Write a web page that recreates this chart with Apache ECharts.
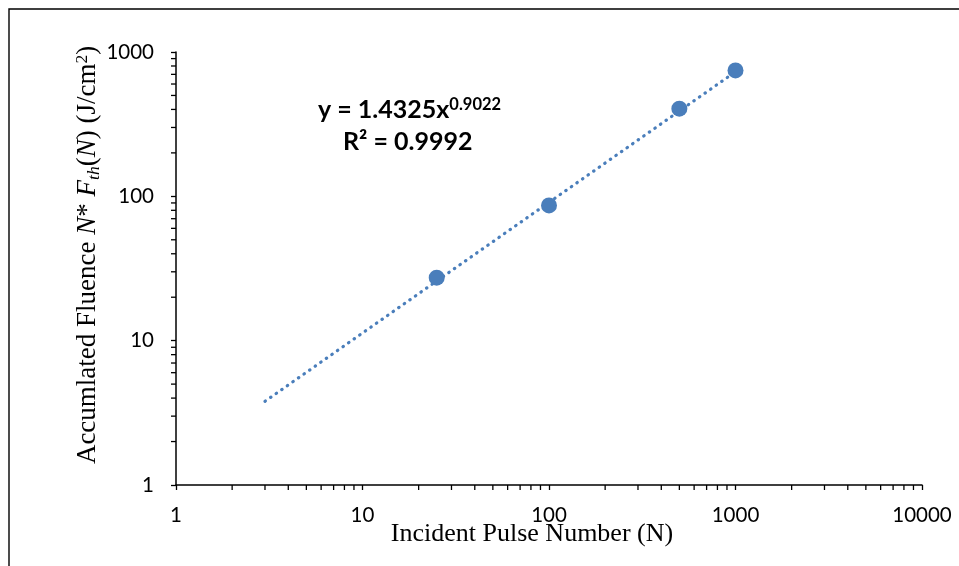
<!DOCTYPE html>
<html>
<head>
<meta charset="utf-8">
<script src="https://cdn.jsdelivr.net/npm/echarts@6/dist/echarts.min.js"></script>
<style>html,body{margin:0;padding:0;background:#fff;}#c{width:959px;height:566px;}</style>
</head>
<body>
<div id="c"></div>
<script>
const pulseNumbers = [25, 100, 500, 1000];
const accumFluence = [27.3, 86.5, 405, 745];
// Power-law trend line endpoints as drawn (straight on log-log)
const trendX = [3, 1000];
const trendY = [3.8, 730];
// Axis decades
const xTicks = [1, 10, 100, 1000, 10000];
const yTicks = [1, 10, 100, 1000];
const eqText = 'y = 1.4325x';
const eqExp = '0.9022';
const r2Text = 'R² = 0.9992';

const blue = '#4a7ebb';
const chart = echarts.init(document.getElementById('c'));

function minorTicksRender(params, api) {
  const children = [];
  const yBase = yTicks[0], xBase = xTicks[0];
  for (let i = 0; i < xTicks.length - 1; i++) {
    for (let m = 2; m <= 9; m++) {
      const p = api.coord([m * xTicks[i], yBase]);
      children.push({type: 'line', shape: {x1: p[0], y1: p[1], x2: p[0], y2: p[1] + 5},
        style: {stroke: '#000', lineWidth: 1.3}});
    }
  }
  for (let i = 0; i < yTicks.length - 1; i++) {
    for (let m = 2; m <= 9; m++) {
      const p = api.coord([xBase, m * yTicks[i]]);
      children.push({type: 'line', shape: {x1: p[0] - 5, y1: p[1], x2: p[0], y2: p[1]},
        style: {stroke: '#000', lineWidth: 1.3}});
    }
  }
  return {type: 'group', children: children};
}

const fmt = v => String(Math.round(v));

chart.setOption({
  animation: false,
  backgroundColor: '#fff',
  grid: {left: 176, right: 37, top: 52, bottom: 81},
  xAxis: {
    type: 'log', logBase: 10, min: xTicks[0], max: xTicks[xTicks.length - 1],
    axisLine: {lineStyle: {color: '#000', width: 1.5}},
    axisTick: {show: true, length: 5, lineStyle: {color: '#000', width: 1.3}},
    axisLabel: {formatter: fmt, color: '#000', fontFamily: 'Lato', fontSize: 20.5, margin: 20},
    splitLine: {show: false}
  },
  yAxis: {
    type: 'log', logBase: 10, min: yTicks[0], max: yTicks[yTicks.length - 1],
    axisLine: {show: true, lineStyle: {color: '#000', width: 1.5}},
    axisTick: {show: true, length: 5, lineStyle: {color: '#000', width: 1.3}},
    axisLabel: {formatter: fmt, color: '#000', fontFamily: 'Lato', fontSize: 20.5, margin: 22},
    splitLine: {show: false}
  },
  series: [
    {
      type: 'line',
      data: trendX.map((x, i) => [x, trendY[i]]),
      showSymbol: false,
      symbol: 'none',
      lineStyle: {color: blue, width: 3.2, type: [0.5, 6.3], cap: 'round'},
      z: 2
    },
    {
      type: 'scatter',
      data: pulseNumbers.map((x, i) => [x, accumFluence[i]]),
      symbol: 'circle',
      symbolSize: 16,
      itemStyle: {color: blue, opacity: 1},
      z: 3
    },
    {
      type: 'custom',
      data: [[xTicks[0], yTicks[0]]],
      renderItem: minorTicksRender,
      clip: false,
      silent: true,
      z: 1
    }
  ],
  graphic: [
    {type: 'rect', shape: {x: 9, y: 9, width: 2000, height: 2000},
     style: {fill: 'none', stroke: '#000', lineWidth: 1.4}, silent: true},
    {type: 'text', x: 318, y: 110,
     style: {
       text: '{a|' + eqText + '}{b|' + eqExp + '}',
       textVerticalAlign: 'middle', textAlign: 'left',
       rich: {
         a: {fontFamily: 'Lato', fontWeight: 'bold', fontSize: 25, lineHeight: 28, fill: '#000', verticalAlign: 'middle'},
         b: {fontFamily: 'Lato', fontWeight: 'bold', fontSize: 16.5, lineHeight: 12, fill: '#000', verticalAlign: 'top'}
       }
     }},
    {type: 'text', x: 343, y: 142,
     style: {text: r2Text, fontFamily: 'Lato', fontWeight: 'bold', fontSize: 25, fill: '#000',
       textAlign: 'left', textVerticalAlign: 'middle'}},
    {type: 'text', x: 532, y: 534,
     style: {text: 'Incident Pulse Number (N)', fontFamily: 'Liberation Serif', fontSize: 26, fill: '#000',
       textAlign: 'center', textVerticalAlign: 'middle'}},
    {type: 'text', x: 88, y: 255, rotation: Math.PI / 2,
     style: {
       text: '{n|Accumlated Fluence }{i|N}{n|* }{i|F}{s|th}{n|(}{i|N}{n|) (J/cm}{p|2}{n|)}',
       textAlign: 'center', textVerticalAlign: 'middle',
       rich: {
         n: {fontFamily: 'Liberation Serif', fontSize: 27, lineHeight: 30, fill: '#000', verticalAlign: 'middle'},
         i: {fontFamily: 'Liberation Serif', fontStyle: 'italic', fontSize: 27, lineHeight: 30, fill: '#000', verticalAlign: 'middle'},
         s: {fontFamily: 'Liberation Serif', fontStyle: 'italic', fontSize: 17.5, lineHeight: 17, fill: '#000', verticalAlign: 'bottom'},
         p: {fontFamily: 'Liberation Serif', fontSize: 17.5, lineHeight: 18, fill: '#000', verticalAlign: 'top'}
       }
     }}
  ]
});
</script>
</body>
</html>
